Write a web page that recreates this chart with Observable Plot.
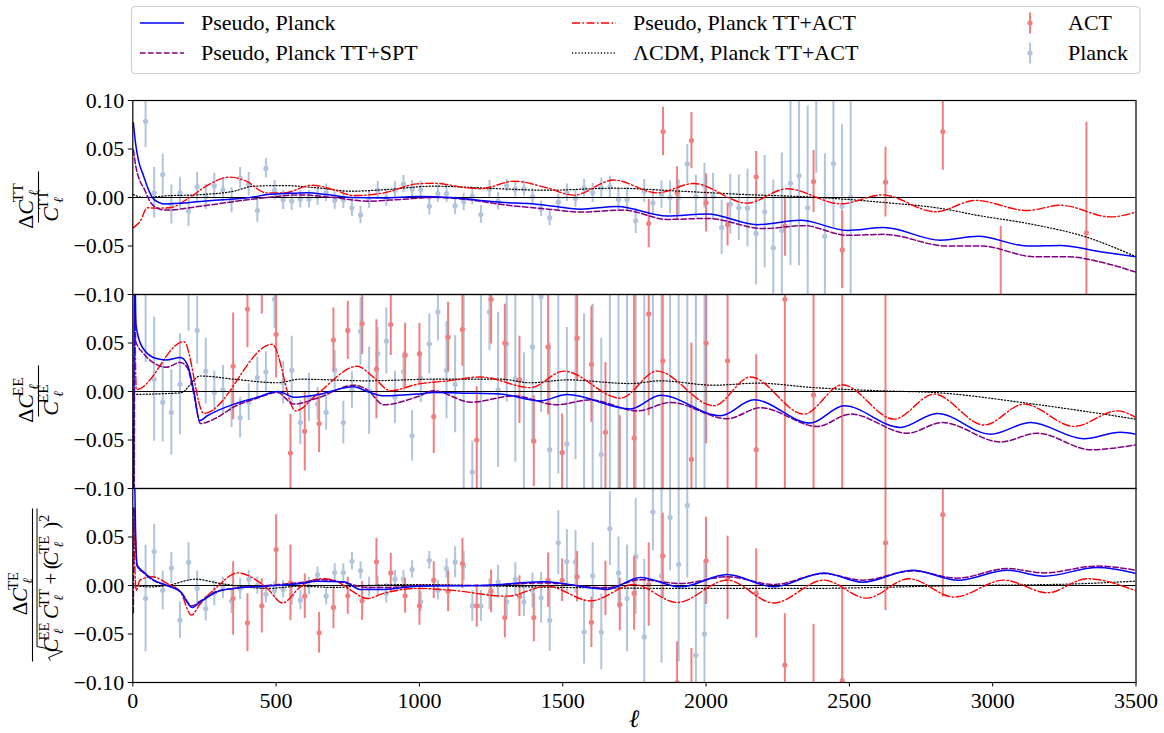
<!DOCTYPE html>
<html>
<head>
<meta charset="utf-8">
<script src="https://cdn.jsdelivr.net/npm/d3@7"></script>
<script src="https://cdn.jsdelivr.net/npm/@observablehq/plot@0.6"></script>
<style>
  html, body { margin: 0; padding: 0; background: #fff; }
  body { width: 1164px; height: 733px; overflow: hidden; font-family: "Liberation Serif", "DejaVu Serif", serif; }
  svg { display: block; }
</style>
</head>
<body>
<div id="legend"></div>
<div id="chart"></div>
<script>
// ---------------------------------------------------------------------------
// Residuals of the CMB power spectra relative to the Planck-best-fit baseline
// ---------------------------------------------------------------------------

const panels = ["TT", "EE", "TE"];
const xTicks = [0, 500, 1000, 1500, 2000, 2500, 3000, 3500];
const yTicks = [-0.1, -0.05, 0, 0.05, 0.1];

// Planck binned multipoles (bin centres)
const ellPlanck = [44.5, 74.5, 104.5, 134.5, 164.5, 194.5, 224.5, 254.5, 284.5, 314.5,
  344.5, 374.5, 404.5, 434.5, 464.5, 494.5, 524.5, 554.5, 584.5, 614.5,
  644.5, 674.5, 704.5, 734.5, 764.5, 794.5, 824.5, 854.5, 884.5, 914.5,
  944.5, 974.5, 1004.5, 1034.5, 1064.5, 1094.5, 1124.5, 1154.5, 1184.5, 1214.5,
  1244.5, 1274.5, 1304.5, 1334.5, 1364.5, 1394.5, 1424.5, 1454.5, 1484.5, 1514.5,
  1544.5, 1574.5, 1604.5, 1634.5, 1664.5, 1694.5, 1724.5, 1754.5, 1784.5, 1814.5,
  1844.5, 1874.5, 1904.5, 1934.5, 1964.5, 1994.5, 2024.5, 2054.5, 2084.5, 2114.5,
  2144.5, 2174.5, 2204.5, 2234.5, 2264.5, 2294.5, 2324.5, 2354.5, 2384.5, 2414.5,
  2444.5, 2474.5, 2504.5];

// Planck TT residuals and 1-sigma errors
const planckTT = [0.0785, 0.0048, 0.0237, -0.0072, 0.0048, -0.014, 0.011, 0.0007, 0.012, 0.008,
  -0.0027, 0.020, 0.0137, -0.0134, 0.030, 0.0075, -0.0024, -0.0038, -0.0017, -0.0017,
  0.001, 0.0048, -0.003, -0.0024, -0.0106, -0.018, -0.0024, 0.0075, -0.0003, 0.0075,
  0.0137, 0.0086, 0.008, -0.009, 0.004, 0.004, -0.0086, -0.0045, 0.0014, -0.0175,
  0.0086, -0.0038, 0.0123, 0.0086, 0.0093, 0.001, -0.0117, -0.021, -0.0048, 0.0048,
  -0.001, 0.0096, 0.0048, 0.010, 0.011, -0.002, -0.002, -0.024, 0.0065, -0.0055,
  0.003, 0.000, 0.000, 0.0346, 0.001, 0.0123, 0.001, -0.031, -0.007, -0.0106,
  -0.011, -0.037, -0.0147, -0.052, -0.034, 0.0147, 0.0226, -0.0106, 0.11, -0.04,
  0.035, -0.009, 0.000];
const planckTTErr = [0.027, 0.026, 0.021, 0.020, 0.016, 0.016, 0.015, 0.013, 0.013, 0.012,
  0.013, 0.011, 0.012, 0.012, 0.010, 0.010, 0.010, 0.0095, 0.009, 0.009,
  0.009, 0.009, 0.009, 0.009, 0.009, 0.009, 0.009, 0.009, 0.009, 0.009,
  0.009, 0.009, 0.009, 0.009, 0.009, 0.009, 0.009, 0.009, 0.009, 0.009,
  0.009, 0.009, 0.0065, 0.008, 0.008, 0.008, 0.008, 0.008, 0.008, 0.009,
  0.009, 0.009, 0.010, 0.010, 0.011, 0.011, 0.012, 0.013, 0.012, 0.013,
  0.014, 0.017, 0.018, 0.020, 0.022, 0.023, 0.024, 0.028, 0.031, 0.034,
  0.040, 0.053, 0.058, 0.070, 0.080, 0.085, 0.093, 0.105, 0.085, 0.085,
  0.066, 0.084, 0.130];

// Planck EE residuals and errors
const planckEE = [0.11, 0.0127, -0.011, -0.0216, 0.0075, 0.11, 0.063, 0.021, -0.001, 0.0017,
  -0.018, -0.027, -0.011, 0.0144, 0.020, 0.095, 0.009, 0.022, -0.032, -0.006,
  -0.013, -0.0216, 0.022, -0.032, 0.0014, 0.062, 0.001, 0.039, 0.052, -0.006,
  0.0206, -0.0456, 0.0137, 0.049, 0.082, 0.022, 0.0075, 0.12, -0.083, -0.12,
  0.082, 0.0017, 0.049, 0.013, -0.11, 0.046, 0.098, -0.06, 0.11, -0.054,
  0.13, -0.12, -0.13, -0.065, 0.16, -0.18, 0.2, -0.15, 0.22, -0.25,
  0.18, -0.2, 0.25, -0.3, 0.28, -0.22];
const planckEEErr = [0.08, 0.064, 0.041, 0.044, 0.052, 0.048, 0.035, 0.034, 0.022, 0.025,
  0.019, 0.021, 0.019, 0.021, 0.021, 0.03, 0.022, 0.035, 0.023, 0.025,
  0.017, 0.018, 0.020, 0.022, 0.019, 0.035, 0.045, 0.027, 0.034, 0.027,
  0.020, 0.026, 0.025, 0.031, 0.03, 0.05, 0.05, 0.23, 0.032, 0.24,
  0.04, 0.08, 0.06, 0.086, 0.15, 0.1, 0.12, 0.11, 0.195, 0.12,
  0.2, 0.2, 0.22, 0.12, 0.3, 0.3, 0.32, 0.3, 0.35, 0.35,
  0.35, 0.35, 0.4, 0.4, 0.4, 0.4];

// Planck TE residuals and errors
const planckTE = [-0.0134, 0.035, -0.005, 0.018, -0.0357, 0.024, -0.003, -0.0237, -0.008, -0.0024,
  -0.016, -0.0034, 0.0065, 0.000, -0.009, -0.0048, -0.004, -0.010, -0.015, -0.0007,
  0.011, -0.011, 0.0134, 0.0134, 0.025, 0.0154, -0.0014, -0.0007, -0.008, 0.0065,
  0.0065, 0.0165, -0.0168, 0.026, -0.005, 0.0175, 0.024, 0.020, -0.021, -0.021,
  -0.009, 0.0038, -0.017, 0.0065, -0.017, -0.005, -0.0127, -0.036, 0.044, 0.0247,
  0.0244, -0.048, 0.010, -0.048, 0.0587, 0.013, -0.0134, 0.03, -0.053, 0.0758,
  0.01, 0.07, 0.0216, 0.0826, -0.072, -0.05];
const planckTEErr = [0.055, 0.028, 0.020, 0.016, 0.019, 0.020, 0.018, 0.013, 0.013, 0.011,
  0.013, 0.011, 0.009, 0.009, 0.009, 0.009, 0.009, 0.010, 0.010, 0.009,
  0.008, 0.009, 0.009, 0.009, 0.009, 0.009, 0.010, 0.010, 0.010, 0.009,
  0.009, 0.009, 0.010, 0.009, 0.010, 0.010, 0.016, 0.015, 0.016, 0.016,
  0.016, 0.017, 0.015, 0.017, 0.015, 0.018, 0.026, 0.032, 0.033, 0.033,
  0.032, 0.033, 0.034, 0.039, 0.038, 0.037, 0.055, 0.06, 0.08, 0.04,
  0.09, 0.055, 0.1, 0.075, 0.075, 0.075];

// ACT binned residuals
const actEllTT = [1800, 1850, 1899, 1949, 2000, 2075, 2175, 2275, 2375, 2475, 2626, 2826, 3028, 3327];
const actTT = [-0.0268, 0.068, 0.0048, 0.0587, -0.0055, -0.028, 0.0213, -0.0295, 0.0165, -0.054, 0.0158, 0.068, -0.11, -0.0364];
const actTTErr = [0.025, 0.025, 0.027, 0.029, 0.030, 0.022, 0.026, 0.031, 0.032, 0.040, 0.036, 0.040, 0.08, 0.114];

const actEllEE = [350, 400, 450, 500, 550, 600, 650, 700, 750, 800,
  850, 900, 950, 1000, 1050, 1100, 1150, 1200, 1250, 1298,
  1349, 1399, 1449, 1498, 1550, 1600, 1649, 1699, 1749, 1800,
  1849, 1949, 2000, 2075, 2175, 2275, 2375, 2475, 2626];
const actEE = [0.026, 0.085, 0.13, 0.059, -0.0635, -0.041, -0.033, 0.053, 0.063, 0.070,
  0.023, 0.069, 0.0374, 0.039, -0.026, 0.056, 0.064, -0.050, 0.095, 0.050,
  0.012, -0.051, 0.046, -0.063, 0.055, 0.028, -0.042, -0.12, -0.048, 0.08,
  0.0316, -0.07, 0.05, 0.0316, -0.06, 0.095, -0.0034, 0.15, 0.2];
const actEEErr = [0.055, 0.04, 0.05, 0.045, 0.04, 0.041, 0.03, 0.033, 0.030, 0.032,
  0.051, 0.032, 0.033, 0.031, 0.038, 0.036, 0.038, 0.055, 0.046, 0.040,
  0.045, 0.047, 0.07, 0.04, 0.044, 0.06, 0.072, 0.095, 0.15, 0.105,
  0.15, 0.12, 0.104, 0.2, 0.098, 0.25, 0.25, 0.3, 0.4];

const actEllTE = [350, 400, 450, 500, 550, 600, 650, 700, 750, 800,
  850, 900, 950, 1000, 1050, 1100, 1150, 1200, 1250, 1298,
  1349, 1399, 1449, 1498, 1550, 1600, 1649, 1699, 1749, 1800,
  1849, 1899, 1949, 2000, 2075, 2175, 2275, 2375, 2475, 2626, 2826];
const actTE = [-0.0134, -0.0384, -0.021, 0.037, 0.0027, -0.011, -0.0487, -0.0226, -0.0106, -0.0158,
  0.0244, 0.013, -0.0106, -0.021, 0.0055, -0.006, 0.0226, -0.021, -0.006, -0.033,
  -0.011, -0.033, 0.0055, 0.0055, 0.009, -0.038, -0.003, -0.0196, -0.0082, 0.001,
  0.0305, -0.1, -0.11, 0.0254, 0.0079, -0.0082, -0.082, -0.12, -0.098, 0.044, 0.073];
const actTEErr = [0.038, 0.030, 0.028, 0.036, 0.039, 0.023, 0.021, 0.022, 0.019, 0.020,
  0.024, 0.020, 0.018, 0.020, 0.019, 0.021, 0.026, 0.022, 0.022, 0.021,
  0.021, 0.025, 0.028, 0.022, 0.026, 0.026, 0.028, 0.027, 0.038, 0.043,
  0.044, 0.042, 0.045, 0.045, 0.043, 0.046, 0.053, 0.08, 0.094, 0.07, 0.085];

// Model residual curves: [multipole, residual]
const ttPseudoPlanck = [[2, 0.077], [10, 0.055], [20, 0.038], [38, 0.022], [52, 0.01], [68, 0], [90, -0.005], [108, -0.0066], [160, -0.006], [236, -0.004], [330, -0.002], [411, 0], [470, 0.003], [527, 0.004], [608, 0.005], [678, 0.003], [760, 0], [876, -0.0005], [992, 0.001], [1108, 0], [1213, -0.003], [1283, -0.005], [1390, -0.0065], [1470, -0.009], [1562, -0.012], [1690, -0.0093], [1864, -0.019], [2004, -0.017], [2178, -0.028], [2330, -0.0235], [2493, -0.034], [2620, -0.031], [2818, -0.044], [2950, -0.040], [3120, -0.050], [3237, -0.0494], [3376, -0.056], [3500, -0.061]];
const ttPseudoSPT = [[2, 0.049], [12, 0.03], [25, 0.017], [38, 0.010], [60, -0.004], [82, -0.0106], [117, -0.013], [236, -0.009], [411, -0.002], [585, 0.0027], [701, 0], [818, -0.0038], [934, -0.002], [1050, 0], [1166, -0.002], [1283, -0.007], [1340, -0.009], [1450, -0.012], [1562, -0.015], [1713, -0.013], [1864, -0.0226], [2004, -0.0216], [2202, -0.032], [2341, -0.029], [2493, -0.039], [2620, -0.038], [2841, -0.050], [2960, -0.050], [3144, -0.061], [3260, -0.061], [3376, -0.0665], [3500, -0.077]];
const ttPseudoACT = [[2, -0.031], [27, -0.024], [50, -0.0106], [82, -0.011], [128, -0.0106], [198, 0], [256, 0.0117], [337, 0.021], [396, 0.0168], [465, 0.0048], [527, 0.0048], [625, 0.0127], [701, 0.008], [771, 0.002], [876, 0.0048], [992, 0.014], [1050, 0.0147], [1166, 0.010], [1213, 0.009], [1329, 0.0168], [1445, 0.010], [1538, 0.0024], [1678, 0.018], [1829, 0.0048], [1957, 0.0144], [2143, -0.0058], [2283, 0.009], [2470, -0.0065], [2615, 0.0027], [2800, -0.0147], [2940, -0.003], [3120, -0.0134], [3237, -0.008], [3411, -0.020], [3500, -0.015]];
const ttLCDM = [[2, 0.003], [38, 0], [117, 0.0017], [236, 0.003], [353, 0.0065], [422, 0.0117], [527, 0.0123], [643, 0.010], [760, 0.0065], [876, 0.008], [1050, 0.0117], [1166, 0.0106], [1283, 0.009], [1445, 0.0075], [1678, 0.0096], [1911, 0.0065], [2143, 0.003], [2376, 0.0003], [2609, -0.0048], [2841, -0.0123], [2930, -0.0175], [3144, -0.028], [3318, -0.040], [3500, -0.061]];

const eePseudoPlanck = [[2, -0.2], [6, 0.15], [11, 0.07], [17, 0.059], [38, 0.0436], [82, 0.034], [117, 0.0326], [166, 0.035], [190, 0.028], [213, 0.0007], [233, -0.030], [260, -0.025], [353, -0.013], [434, -0.006], [504, 0], [527, -0.0017], [562, -0.006], [643, -0.0034], [771, 0.0048], [818, 0], [876, -0.0045], [992, -0.0027], [1050, -0.001], [1166, -0.0017], [1283, -0.0027], [1422, -0.0096], [1515, -0.003], [1736, -0.018], [1841, -0.0038], [2050, -0.025], [2167, -0.0086], [2364, -0.0326], [2481, -0.0147], [2678, -0.037], [2806, -0.0226], [2993, -0.044], [3132, -0.032], [3318, -0.0487], [3446, -0.042], [3500, -0.044]];
const eePseudoSPT = [[2, -0.2], [5, -0.1], [7, 0.12], [10, 0.052], [38, 0.039], [82, 0.028], [117, 0.025], [166, 0.030], [190, 0.0247], [213, -0.0027], [236, -0.033], [294, -0.0268], [353, -0.0158], [434, -0.0069], [504, -0.001], [562, -0.013], [643, -0.0069], [771, 0.0065], [818, 0.0017], [876, -0.0137], [992, -0.0055], [1050, 0.0007], [1180, -0.011], [1329, -0.0045], [1480, -0.0137], [1597, -0.0086], [1760, -0.020], [1876, -0.0113], [2074, -0.028], [2190, -0.0168], [2388, -0.036], [2504, -0.0233], [2702, -0.043], [2824, -0.032], [3028, -0.052], [3156, -0.043], [3342, -0.060], [3500, -0.055]];
const eePseudoACT = [[2, 0.15], [6, 0.1], [12, 0.002], [178, 0.0515], [248, -0.0226], [486, 0.0487], [568, -0.020], [643, -0.0027], [783, 0.026], [841, 0.0144], [899, 0.0007], [992, 0.0075], [1100, 0.011], [1213, 0.015], [1387, 0.004], [1504, 0.021], [1701, -0.0069], [1829, 0.021], [2027, -0.0147], [2155, 0.015], [2341, -0.0233], [2475, 0.0069], [2656, -0.0285], [2795, -0.0027], [2970, -0.0346], [3109, -0.013], [3284, -0.036], [3435, -0.020], [3500, -0.0268]];
const eeLCDM = [[2, -0.003], [166, -0.0014], [236, 0.016], [353, 0.0127], [504, 0.009], [585, 0.0127], [818, 0.011], [1050, 0.0127], [1283, 0.0127], [1387, 0.009], [1515, 0.012], [1736, 0.0082], [1841, 0.011], [2027, 0.0065], [2178, 0.0086], [2376, 0.004], [2609, 0.0007], [2795, -0.001], [3144, -0.013], [3500, -0.0285]];

const tePseudoPlanck = [[2, 0.15], [6, 0.12], [10, 0.05], [15, 0.021], [38, 0.014], [73, 0.0055], [120, 0], [166, -0.0065], [207, -0.0226], [236, -0.017], [294, -0.0065], [353, -0.003], [469, -0.0007], [585, 0.002], [643, 0.0045], [736, 0.0038], [794, -0.004], [876, -0.004], [992, -0.0007], [1213, 0], [1434, 0.0038], [1655, -0.004], [1771, 0.0082], [1911, -0.0014], [2074, 0.0113], [2236, -0.0014], [2411, 0.013], [2545, 0.0034], [2720, 0.0158], [2880, 0.0055], [3051, 0.0158], [3179, 0.0096], [3365, 0.0185], [3500, 0.0123]];
const tePseudoSPT = [[2, -0.028], [5, 0.08], [8, 0.06], [15, 0.02], [38, 0.013], [73, 0.005], [120, 0], [166, -0.006], [207, -0.021], [236, -0.016], [294, -0.006], [353, -0.003], [469, 0], [585, 0.003], [660, 0.006], [736, 0.003], [820, -0.002], [900, -0.002], [1000, 0], [1213, 0], [1434, 0.0027], [1655, -0.0024], [1771, 0.006], [1911, 0.002], [2074, 0.009], [2236, 0.001], [2411, 0.0123], [2545, 0.0055], [2720, 0.015], [2877, 0.0076], [3051, 0.0175], [3179, 0.013], [3365, 0.020], [3500, 0.0158]];
const tePseudoACT = [[2, 0.08], [6, 0.03], [12, -0.005], [25, 0.0055], [68, 0.009], [120, 0.002], [166, -0.0065], [204, -0.0305], [236, -0.0185], [294, -0.0014], [365, 0.013], [469, -0.003], [522, -0.018], [585, -0.0014], [655, 0.007], [701, 0.0055], [760, -0.0048], [818, -0.0134], [876, -0.008], [992, -0.003], [1108, -0.0048], [1306, -0.011], [1446, -0.0007], [1597, -0.0158], [1748, 0.001], [1899, -0.0175], [2074, 0.0055], [2236, -0.018], [2411, 0.0055], [2560, -0.013], [2708, 0.007], [2865, -0.012], [3039, 0.0055], [3191, -0.0075], [3330, 0.007], [3500, -0.0055]];
const teLCDM = [[2, 0], [62, -0.0014], [120, 0], [218, 0.0065], [294, 0.0027], [353, 0], [469, -0.003], [585, -0.0007], [701, -0.002], [818, 0], [992, 0.001], [1283, -0.0007], [1500, -0.002], [2000, -0.003], [2330, -0.003], [2911, 0], [3260, 0.0014], [3500, 0.0045]];

// ---------------------------------------------------------------------------
// Tidy rows for Plot
// ---------------------------------------------------------------------------
function points(panel, ells, vals, errs) {
  return vals.map((v, i) => ({panel, ell: ells[i], v, lo: v - errs[i], hi: v + errs[i]}));
}
const planckRows = [
  ...points("TT", ellPlanck, planckTT, planckTTErr),
  ...points("EE", ellPlanck, planckEE, planckEEErr),
  ...points("TE", ellPlanck, planckTE, planckTEErr)
];
const actRows = [
  ...points("TT", actEllTT, actTT, actTTErr),
  ...points("EE", actEllEE, actEE, actEEErr),
  ...points("TE", actEllTE, actTE, actTEErr)
];
function curve(tt, ee, te) {
  return [["TT", tt], ["EE", ee], ["TE", te]].flatMap(([panel, pts]) => pts.map(([ell, v]) => ({panel, ell, v})));
}
const seriesPseudoPlanck = curve(ttPseudoPlanck, eePseudoPlanck, tePseudoPlanck);
const seriesPseudoSPT = curve(ttPseudoSPT, eePseudoSPT, tePseudoSPT);
const seriesPseudoACT = curve(ttPseudoACT, eePseudoACT, tePseudoACT);
const seriesLCDM = curve(ttLCDM, eeLCDM, teLCDM);

const PLANCK_COLOR = "#b0c4de";
const ACT_COLOR = "#f08080";
const FONT = "'Liberation Serif', 'DejaVu Serif', serif";
const fmtTick = d => d.toFixed(2).replace("-", "\u2212");

// The top tick label of the lower panels would sit under the "−0.10" of the
// panel above, so only the first panel writes its "0.10".
const topTickLabel = [{panel: "TT", y: 0.1}];

const lineOpts = {x: "ell", y: "v", fy: "panel", curve: "monotone-x", clip: true};

const chart = Plot.plot({
  width: 1164,
  height: 653,
  marginTop: 19,
  marginBottom: 50.7,
  marginLeft: 132.3,
  marginRight: 28.5,
  style: {fontFamily: FONT, fontSize: "22px", color: "black", background: "white", overflow: "visible"},
  x: {domain: [0, 3500]},
  y: {domain: [-0.1, 0.1]},
  fy: {domain: panels, padding: 0, axis: null},
  marks: [
    Plot.ruleX(planckRows, {x: "ell", y1: "lo", y2: "hi", fy: "panel", stroke: PLANCK_COLOR, strokeWidth: 2, clip: true}),
    Plot.dot(planckRows, {x: "ell", y: "v", fy: "panel", r: 2.6, fill: PLANCK_COLOR, clip: true}),
    Plot.ruleX(actRows, {x: "ell", y1: "lo", y2: "hi", fy: "panel", stroke: ACT_COLOR, strokeWidth: 2, clip: true}),
    Plot.dot(actRows, {x: "ell", y: "v", fy: "panel", r: 2.6, fill: ACT_COLOR, clip: true}),
    Plot.ruleY([0], {stroke: "black", strokeWidth: 1.2}),
    Plot.line(seriesLCDM, {...lineOpts, stroke: "black", strokeWidth: 1.2, strokeDasharray: "1.2,2"}),
    Plot.line(seriesPseudoACT, {...lineOpts, stroke: "#ff0000", strokeWidth: 1.4, strokeDasharray: "8,2.5,1.5,2.5"}),
    Plot.line(seriesPseudoSPT, {...lineOpts, stroke: "#800080", strokeWidth: 1.5, strokeDasharray: "5.5,2.5"}),
    Plot.line(seriesPseudoPlanck, {...lineOpts, stroke: "#0000ff", strokeWidth: 1.5}),
    Plot.frame({stroke: "black", strokeWidth: 1.2}),
    Plot.axisY({ticks: yTicks, tickSize: 4.5, tickPadding: 4, label: null, fontSize: 22,
      tickFormat: d => (d === 0.1 ? "" : fmtTick(d))}),
    Plot.text(topTickLabel, {fy: "panel", y: "y", text: d => fmtTick(d.y), frameAnchor: "left",
      dx: -8.5, textAnchor: "end", fontSize: 22, fill: "black"}),
    Plot.axisX({ticks: xTicks, tickSize: 4.5, tickPadding: 5, label: null, fontSize: 22,
      tickFormat: d => String(d)})
  ]
});
document.getElementById("chart").appendChild(chart);

// ---------------------------------------------------------------------------
// Axis titles written as stacked math (fractions), drawn rotated
// ---------------------------------------------------------------------------
const svg = d3.select(chart);
const ann = svg.append("g").attr("font-family", FONT).attr("fill", "black");

function mathRow(g, items, fs) {
  const sfs = fs * 0.7;
  let x = 0;
  for (const it of items) {
    if (it.t !== undefined) {
      const n = g.append("text").attr("x", x).attr("y", 0).attr("font-size", fs)
        .attr("font-style", it.it ? "italic" : "normal").text(it.t);
      x += n.node().getComputedTextLength() + (it.pad || 0);
    } else {
      let w = 0;
      if (it.sup) {
        const n = g.append("text").attr("x", x).attr("y", -fs * 0.42).attr("font-size", sfs).text(it.sup);
        w = Math.max(w, n.node().getComputedTextLength());
      }
      if (it.sub) {
        const n = g.append("text").attr("x", x).attr("y", fs * 0.25)
          .attr("font-family", "'DejaVu Serif', serif").attr("font-style", "italic")
          .attr("font-size", sfs * 0.9).text(it.sub);
        w = Math.max(w, n.node().getComputedTextLength());
      }
      x += w + 1.5;
    }
  }
  return x;
}

function fraction(cx, cy, num, den, opt) {
  const fs = opt.fs;
  const g = ann.append("g").attr("transform", `translate(${cx},${cy}) rotate(-90)`);
  const gn = g.append("g");
  const wn = mathRow(gn, num, fs);
  const gd = g.append("g");
  const wd = mathRow(gd, den, fs);
  const rad = opt.sqrt ? 15 : 0;
  const w = Math.max(wn, wd + rad) + 2;
  gn.attr("transform", `translate(${-wn / 2},${opt.numBase})`);
  const dx = -(wd + rad) / 2 + rad;
  gd.attr("transform", `translate(${dx},${opt.denBase})`);
  if (opt.sqrt) {
    const top = opt.radTop, b = opt.denBase;
    g.append("path")
      .attr("d", `M${dx - 15},${b - 7} L${dx - 12},${b - 9} L${dx - 6},${b + 5} L${dx - 1},${top} L${dx + wd + 1},${top}`)
      .attr("fill", "none").attr("stroke", "black").attr("stroke-width", 1);
  }
  g.append("line").attr("x1", -w / 2).attr("x2", w / 2).attr("y1", 0).attr("y2", 0)
    .attr("stroke", "black").attr("stroke-width", 1.1);
}

const C = (sup) => [{t: "C", it: true}, {sup, sub: "\u2113"}];
const svgTop = 80;

fraction(38.5, 197 - svgTop, [{t: "\u0394"}, ...C("TT")], C("TT"), {fs: 22, numBase: -6, denBase: 19});
fraction(38.5, 391 - svgTop, [{t: "\u0394"}, ...C("EE")], C("EE"), {fs: 22, numBase: -6, denBase: 19});
fraction(32.5, 585 - svgTop,
  [{t: "\u0394"}, ...C("TE")],
  [...C("EE"), ...C("TT"), {t: "+", pad: 1}, {t: "("}, ...C("TE"), {t: ")"}, {sup: "2"}],
  {fs: 21, numBase: -6, denBase: 25, sqrt: true, radTop: 4.5});

// Multipole axis title
ann.append("text")
  .attr("x", 634).attr("y", 727 - svgTop)
  .attr("text-anchor", "middle")
  .attr("font-family", "'DejaVu Serif', serif")
  .attr("font-style", "italic")
  .attr("font-size", 25)
  .text("\u2113");

// ---------------------------------------------------------------------------
// Legend (three columns, two rows)
// ---------------------------------------------------------------------------
const legendItems = [
  {label: "Pseudo, Planck", kind: "line", stroke: "#0000ff", dash: null, x: 140, row: 0},
  {label: "Pseudo, Planck TT+SPT", kind: "line", stroke: "#800080", dash: "5.5,2.5", x: 140, row: 1},
  {label: "Pseudo, Planck TT+ACT", kind: "line", stroke: "#ff0000", dash: "8,2.5,1.5,2.5", x: 572, row: 0},
  {label: "\u039BCDM, Planck TT+ACT", kind: "line", stroke: "black", dash: "1.2,2", x: 572, row: 1},
  {label: "ACT", kind: "err", stroke: ACT_COLOR, x: 1030, row: 0},
  {label: "Planck", kind: "err", stroke: PLANCK_COLOR, x: 1030, row: 1}
];
const rowY = [23, 53];

const leg = d3.create("svg").attr("width", 1164).attr("height", svgTop)
  .attr("font-family", FONT).attr("font-size", 22);
leg.append("rect").attr("x", 131.5).attr("y", 6.5).attr("width", 1008.5).attr("height", 67)
  .attr("rx", 4).attr("fill", "white").attr("stroke", "#d0d0d0").attr("stroke-width", 1.2);
for (const it of legendItems) {
  const y = rowY[it.row];
  if (it.kind === "line") {
    leg.append("line").attr("x1", it.x).attr("x2", it.x + 44).attr("y1", y).attr("y2", y)
      .attr("stroke", it.stroke).attr("stroke-width", 1.5).attr("stroke-dasharray", it.dash);
    leg.append("text").attr("x", it.x + 61).attr("y", y).attr("dy", "0.34em").text(it.label);
  } else {
    leg.append("line").attr("x1", it.x).attr("x2", it.x).attr("y1", y - 10.5).attr("y2", y + 10.5)
      .attr("stroke", it.stroke).attr("stroke-width", 2);
    leg.append("circle").attr("cx", it.x).attr("cy", y).attr("r", 2.6).attr("fill", it.stroke);
    leg.append("text").attr("x", it.x + 38).attr("y", y).attr("dy", "0.34em").text(it.label);
  }
}
document.getElementById("legend").appendChild(leg.node());
</script>
</body>
</html>
